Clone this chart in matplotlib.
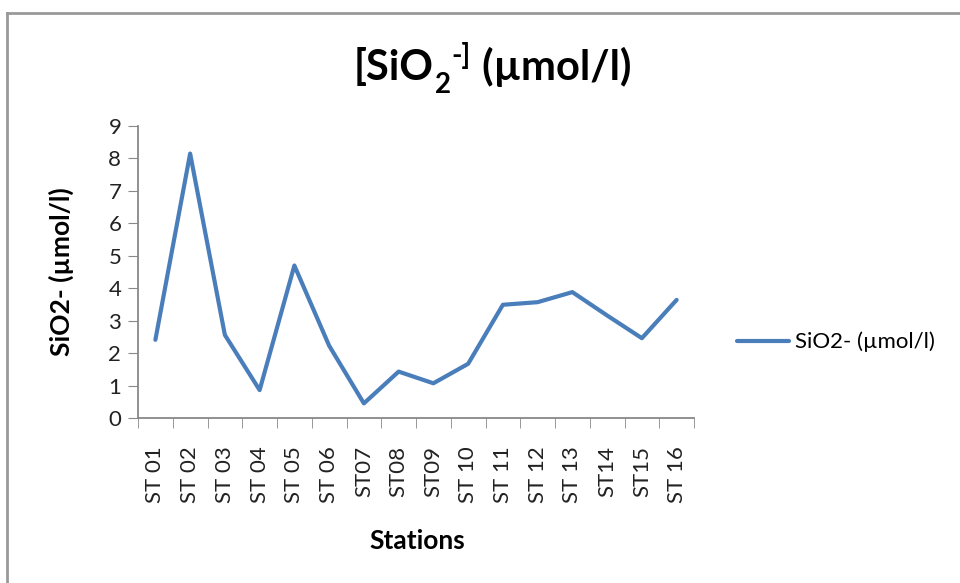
import matplotlib
matplotlib.use("Agg")
import matplotlib.pyplot as plt
from matplotlib.lines import Line2D
from matplotlib.transforms import IdentityTransform

plt.rcParams['font.family'] = ['Lato', 'DejaVu Sans']

# data
stations = ['ST 01', 'ST 02', 'ST 03', 'ST 04', 'ST 05', 'ST 06', 'ST07', 'ST08',
            'ST09', 'ST 10', 'ST 11', 'ST 12', 'ST 13', 'ST14', 'ST15', 'ST 16']
sio2 = [2.41, 8.15, 2.56, 0.86, 4.70, 2.23, 0.45, 1.43,
        1.07, 1.67, 3.49, 3.57, 3.88, 3.16, 2.46, 3.64]

W, H = 960, 583
fig = plt.figure(figsize=(W / 100, H / 100), dpi=100)
ax = fig.add_axes([138 / W, 1 - 418 / H, 556 / W, 292 / H])

x = list(range(len(stations)))
line, = ax.plot(x, sio2, color='#4A7EBB', lw=3, solid_joinstyle='round',
                solid_capstyle='round', label='SiO2- (µmol/l)')

ax.set_xlim(-0.5, len(stations) - 0.5)
ax.set_ylim(0, 9)
ax.set_yticks(range(10))
ax.set_xticks(x)
ax.set_xticklabels(stations, rotation=90)
ax.set_xticks([i - 0.5 for i in range(len(stations) + 1)], minor=True)
ax.tick_params(axis='x', which='major', length=0, pad=20, labelsize=16, labelcolor='#222222')
ax.tick_params(axis='x', which='minor', length=7, color='#888888', direction='out')
ax.tick_params(axis='y', length=7, color='#888888', labelsize=16, labelcolor='#222222', pad=5)

for s in ['top', 'right']:
    ax.spines[s].set_visible(False)
for s in ['left', 'bottom']:
    ax.spines[s].set_color('#888888')
    ax.spines[s].set_linewidth(1.3)

ax.set_ylabel('SiO2- (µmol/l)', fontsize=19, fontweight='bold', va='center')
ax.yaxis.set_label_coords(-0.137, 0.5)
ax.set_xlabel('Stations', fontsize=19, fontweight='bold', va='center')
ax.xaxis.set_label_coords(0.502, -0.421)

# title built from pieces so the sub/superscripts look like the original
r = fig.canvas.get_renderer()
pieces = [('[SiO', 30, 0), ('2', 20, -13), ('-]', 20, 16), (' (µmol/l)', 30, 0)]
texts = []
for s, size, dy in pieces:
    t = fig.text(0, 0, s, fontsize=size, fontweight='bold', va='baseline',
                 ha='left', transform=IdentityTransform())
    texts.append((t, dy))
widths = [t.get_window_extent(r).width for t, _ in texts]
xpos = 491 - sum(widths) / 2
base = H - 80
for (t, dy), w in zip(texts, widths):
    t.set_position((xpos, base + dy))
    xpos += w + 1

fig.legend(handles=[line], loc='center left', bbox_to_anchor=(737 / W, 1 - 342 / H),
           frameon=False, fontsize=16, handlelength=2.35, handletextpad=0.25,
           borderpad=0, borderaxespad=0)

# chart frame (left and top edges visible in the reference)
fig.add_artist(Line2D([0.007, 0.007], [0.0, 0.977], color='#999999', lw=2))
fig.add_artist(Line2D([0.007, 1.0], [0.977, 0.977], color='#999999', lw=2))

fig.savefig('out.png', dpi=100)
